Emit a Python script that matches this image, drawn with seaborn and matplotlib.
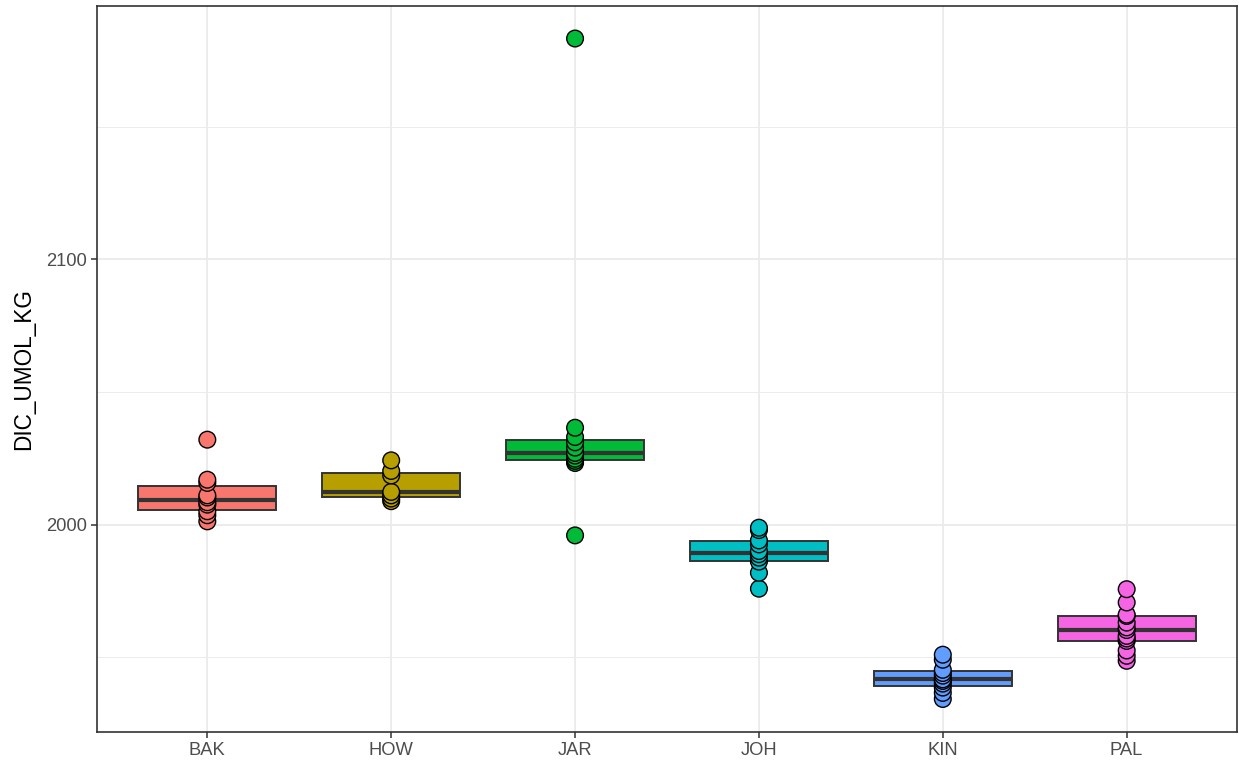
import matplotlib
matplotlib.use("Agg")
import matplotlib.pyplot as plt
from matplotlib.ticker import FixedLocator
import seaborn as sns
import pandas as pd
import numpy as np

sites = ["BAK", "HOW", "JAR", "JOH", "KIN", "PAL"]
colors = ["#F8766D", "#B79F00", "#00BA38", "#00BFC4", "#619CFF", "#F564E3"]

bak = [2001.2, 2003.5, 2005.0, 2007.5, 2008.4, 2010.2, 2011.0, 2015.7, 2016.9, 2032.0]
how = [2008.8, 2009.8, 2011.0, 2012.3, 2018.5, 2020.2, 2024.2]
jar = [1995.9, 2023.2, 2024.0, 2024.8, 2026.0, 2027.0, 2029.0, 2031.0, 2033.0, 2036.5, 2183.3]
joh = [1975.8, 1981.8, 1986.0, 1987.5, 1988.8, 1990.0, 1992.5, 1994.0, 1997.9, 1998.8]
kin = [1934.2, 1936.5, 1938.5, 1940.0, 1941.0, 1941.6, 1943.0, 1944.0, 1945.2, 1949.0, 1950.9]
pal = [1948.6, 1950.5, 1952.5, 1956.1, 1957.0, 1958.0, 1960.2, 1961.2, 1963.0, 1965.5, 1966.0, 1970.6, 1975.6]

values = [bak, how, jar, joh, kin, pal]
df = pd.DataFrame({
    "SITE": np.repeat(sites, [len(v) for v in values]),
    "DIC_UMOL_KG": np.concatenate(values),
})

sns.set_theme(style="white")
plt.rcParams["font.family"] = ["Liberation Sans", "DejaVu Sans"]

fig = plt.figure(figsize=(12.39, 7.65), dpi=100)
ax = fig.add_axes([97/1239, 1 - 732/765, (1237-97)/1239, (732-5.5)/765])

edge = "#333333"
sns.boxplot(data=df, x="SITE", y="DIC_UMOL_KG", hue="SITE", order=sites,
            hue_order=sites, palette=colors, width=0.75, showfliers=False,
            linewidth=1.4, linecolor=edge, legend=False, ax=ax,
            whis=1.5, saturation=1,
            medianprops=dict(color=edge, linewidth=3.0),
            boxprops=dict(edgecolor=edge),
            whiskerprops=dict(color=edge), capprops=dict(linewidth=0))
sns.stripplot(data=df, x="SITE", y="DIC_UMOL_KG", hue="SITE", order=sites,
              hue_order=sites, palette=colors, jitter=False, size=12,
              edgecolor="black", linewidth=1.0, legend=False, ax=ax, zorder=5)

allv = df["DIC_UMOL_KG"]
rng = allv.max() - allv.min()
ax.set_ylim(allv.min() - 0.05 * rng, allv.max() + 0.05 * rng)
ax.set_xlim(-0.6, 5.6)

ax.yaxis.set_major_locator(FixedLocator([2000, 2100]))
ax.yaxis.set_minor_locator(FixedLocator([1950, 2050, 2150]))
ax.set_axisbelow(True)
ax.grid(which="major", color="#EBEBEB", linewidth=1.3)
ax.grid(which="minor", axis="y", color="#EBEBEB", linewidth=0.65)

for s in ax.spines.values():
    s.set_color(edge)
    s.set_linewidth(1.2)

ax.tick_params(axis="both", which="major", length=4, width=1.1, color=edge,
               labelsize=13.2, labelcolor="#4D4D4D", pad=3, left=True, bottom=True)
ax.tick_params(axis="y", which="minor", length=0)
ax.set_xlabel("")
ax.set_ylabel("DIC_UMOL_KG", fontsize=16.3, color="black", labelpad=8)

fig.savefig("out.png", dpi=100)
